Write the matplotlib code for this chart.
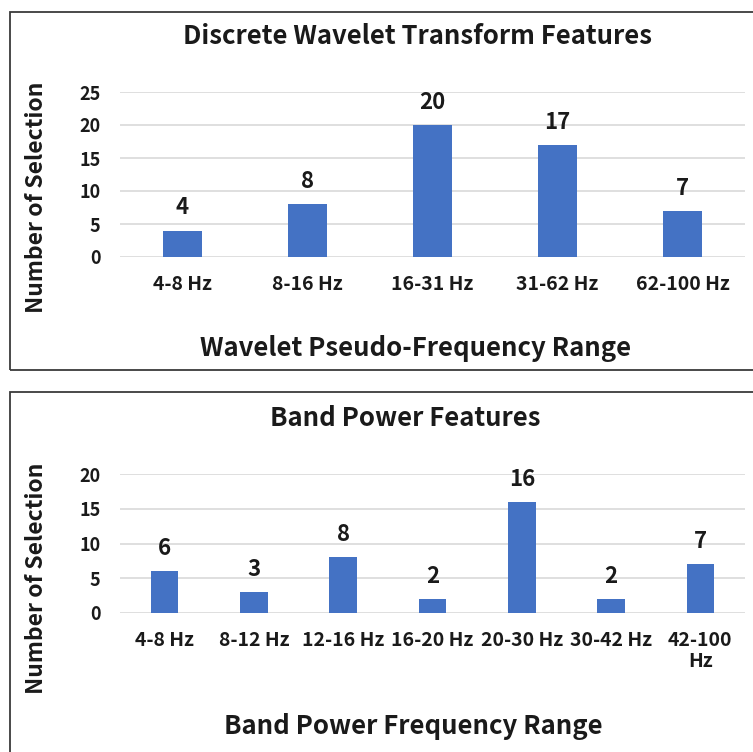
import numpy as np
import matplotlib.pyplot as plt
from matplotlib.patches import Rectangle

plt.rcParams['font.family'] = ['Noto Sans CJK KR', 'DejaVu Sans']

# === data ===
dwt_labels = ["4-8 Hz", "8-16 Hz", "16-31 Hz", "31-62 Hz", "62-100 Hz"]
dwt_counts = [4, 8, 20, 17, 7]

bp_labels = ["4-8 Hz", "8-12 Hz", "12-16 Hz", "16-20 Hz", "20-30 Hz", "30-42 Hz", "42-100\nHz"]
bp_counts = [6, 3, 8, 2, 16, 2, 7]

BAR_COLOR = "#4472C4"
GRID_COLOR = "#d9d9d9"
TEXT_COLOR = "#1a1a1a"

W, H = 753, 752
fig = plt.figure(figsize=(W / 100, H / 100), dpi=100)


def px(x, y):
    # pixel (from top-left) -> figure fraction
    return x / W, 1 - y / H


def panel_box(x0, y0, x1, y1):
    fx0, fy1 = px(x0, y0)
    fx1, fy0 = px(x1, y1)
    fig.patches.append(Rectangle((fx0, fy0), fx1 - fx0, fy1 - fy0, transform=fig.transFigure,
                                 fill=False, edgecolor="#3a3a3a", linewidth=1.3, clip_on=False))


def bar_panel(rect, labels, counts, ymax, title, title_xy, xlabel, xlabel_xy, ylabel_xy):
    ax = fig.add_axes(rect)
    x = np.arange(len(labels))
    ax.bar(x, counts, width=0.31, color=BAR_COLOR, zorder=3)
    ax.set_xlim(-0.5, len(labels) - 0.5)
    ax.set_ylim(0, ymax)
    ax.set_yticks(np.arange(0, ymax + 1, 5))
    ax.yaxis.grid(True, color=GRID_COLOR, linewidth=1.2, zorder=0)
    ax.set_axisbelow(True)
    for s in ax.spines.values():
        s.set_visible(False)
    ax.tick_params(length=0, colors=TEXT_COLOR)
    ax.tick_params(axis='y', labelsize=13, pad=14)
    ax.tick_params(axis='x', labelsize=14, pad=13)
    ax.set_xticks(x)
    ax.set_xticklabels(labels, fontweight='bold', linespacing=1.1)
    for t in ax.get_yticklabels():
        t.set_fontweight('bold')
    for xi, c in zip(x, counts):
        ax.annotate(str(c), (xi, c), xytext=(0, 8), textcoords='offset points',
                    ha='center', va='bottom', fontsize=16, fontweight='bold', color=TEXT_COLOR)
    fig.text(*px(*title_xy), title, ha='center', va='center', fontsize=18.5,
             fontweight='bold', color=TEXT_COLOR)
    fig.text(*px(*xlabel_xy), xlabel, ha='center', va='center', fontsize=18.5,
             fontweight='bold', color=TEXT_COLOR)
    fig.text(*px(*ylabel_xy), "Number of Selection", ha='center', va='center', rotation=90,
             fontsize=16.5, fontweight='bold', color=TEXT_COLOR)
    return ax


# top panel
panel_box(10, 12, 770, 370)
l, b = px(120, 257)
_, t = px(120, 92)
bar_panel([l, b, 625 / W, t - b], dwt_labels, dwt_counts, 25,
          "Discrete Wavelet Transform Features", (418, 37),
          "Wavelet Pseudo-Frequency Range", (416, 348), (37, 197))

# bottom panel
panel_box(10, 392, 770, 770)
l, b = px(120, 613)
_, t = px(120, 474)
bar_panel([l, b, 625 / W, t - b], bp_labels, bp_counts, 20,
          "Band Power Features", (405, 418),
          "Band Power Frequency Range", (413, 727), (37, 578))

fig.savefig("out.png", dpi=100, facecolor="white")
